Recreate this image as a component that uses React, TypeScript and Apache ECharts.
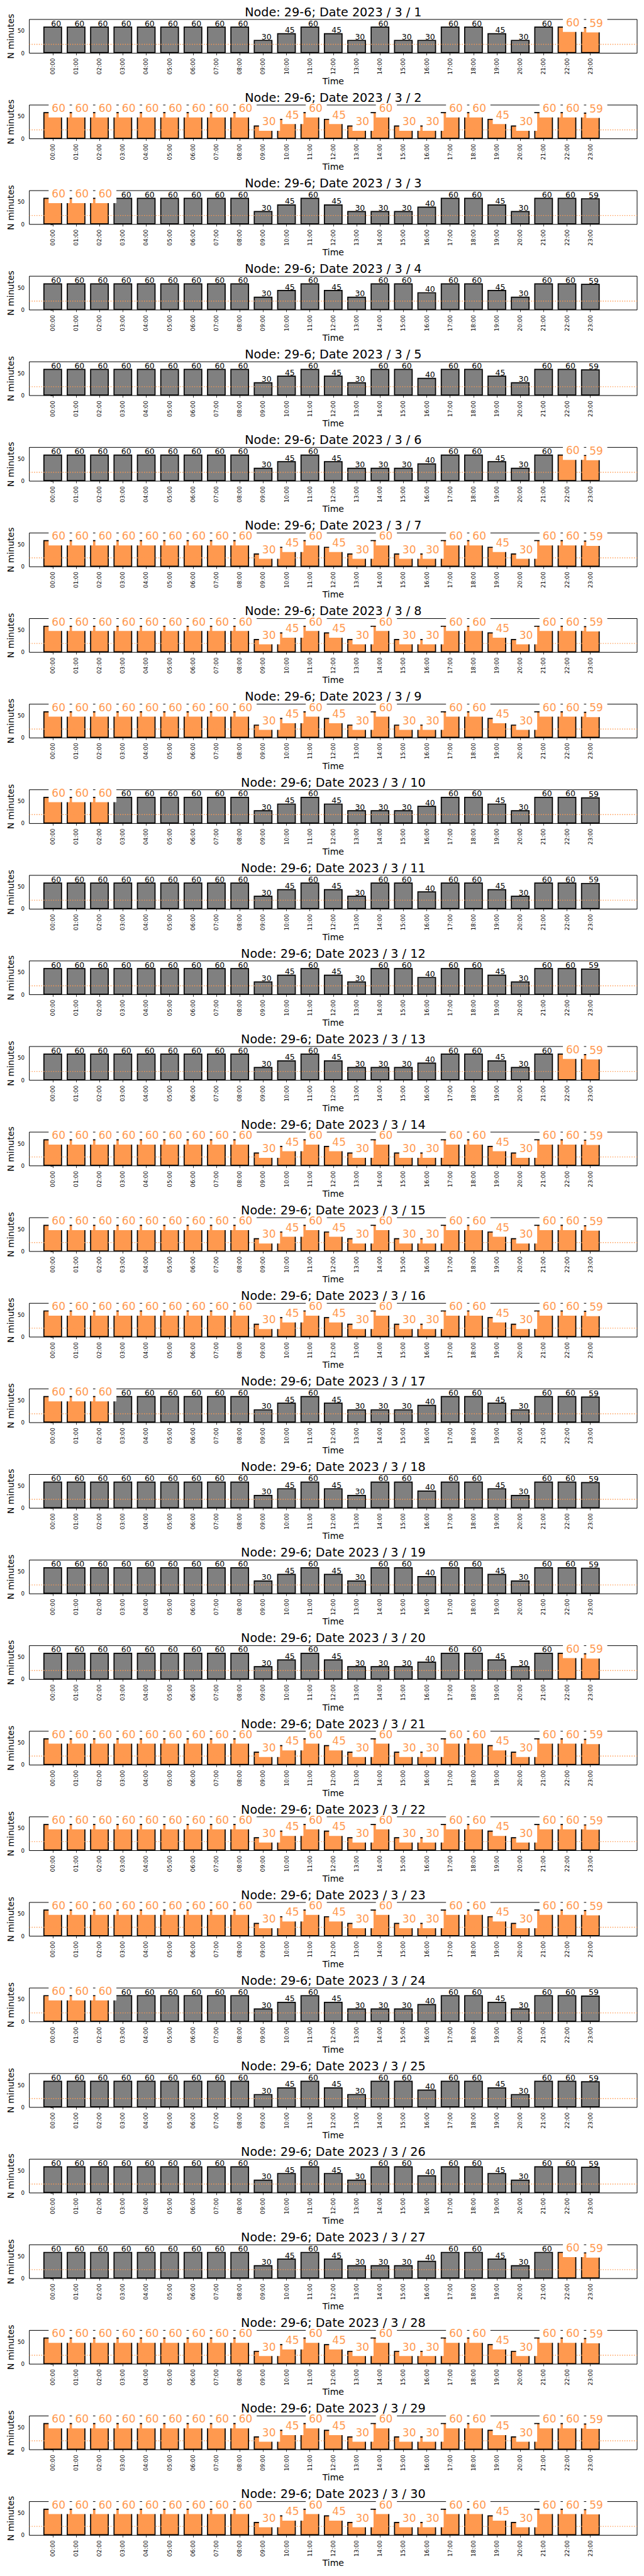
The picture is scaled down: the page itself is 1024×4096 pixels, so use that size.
import React, { useEffect, useRef } from "react";
import * as echarts from "echarts";

// ---------------- data ----------------
const nodeName = "29-6";
const year = 2023;
const month = 3;

const hourLabels = [
  "00:00", "01:00", "02:00", "03:00", "04:00", "05:00", "06:00", "07:00",
  "08:00", "09:00", "10:00", "11:00", "12:00", "13:00", "14:00", "15:00",
  "16:00", "17:00", "18:00", "19:00", "20:00", "21:00", "22:00", "23:00",
];

// minutes per hour, three daily profiles
const profileA = [60, 60, 60, 60, 60, 60, 60, 60, 60, 30, 45, 60, 45, 30, 60, 30, 30, 60, 60, 45, 30, 60, 60, 59];
const profileB = [60, 60, 60, 60, 60, 60, 60, 60, 60, 30, 45, 60, 45, 30, 30, 30, 40, 60, 60, 45, 30, 60, 60, 59];
const profileC = [60, 60, 60, 60, 60, 60, 60, 60, 60, 30, 45, 60, 45, 30, 60, 60, 40, 60, 60, 45, 30, 60, 60, 59];

// profile used by each day of the month (day 1 .. day 30)
const dayProfile = [
  "A", "A", "B", "C", "C", "B", "A",
  "A", "A", "B", "C", "C", "B", "A",
  "A", "A", "B", "C", "C", "B", "A",
  "A", "A", "B", "C", "C", "B", "A",
  "A", "A",
];

// which hours are highlighted (orange) on each day
const dayHighlight = [
  "late", "all", "early", "none", "none", "late", "all",
  "all", "all", "early", "none", "none", "late", "all",
  "all", "all", "early", "none", "none", "late", "all",
  "all", "all", "early", "none", "none", "late", "all",
  "all", "all",
];
const earlyHours = [0, 1, 2];
const lateHours = [22, 23];

const thresholdMinutes = 20;
const yTicks = [0, 50];
const yMax = 76.1;
const xMin = -1;
const xMax = 25;

// ---------------- style ----------------
const S = 0.682;
const FONT = "DejaVu Sans";
const GRAY = "#808080";
const ORANGE = "#FF994F";

const gridLeft = 68.4 * S;
const gridWidth = 1417 * S;
const gridHeight = 78.7 * S;
const gridTop0 = 45.3 * S;
const pitch = 199.55 * S;
const barWidth = (0.8 * gridWidth) / (xMax - xMin);

const profiles: Record<string, number[]> = { A: profileA, B: profileB, C: profileC };

function isHighlighted(mode: string, hour: number) {
  if (mode === "all") return true;
  if (mode === "early") return earlyHours.includes(hour);
  if (mode === "late") return lateHours.includes(hour);
  return false;
}

function buildOption() {
  const grid: any[] = [];
  const xAxis: any[] = [];
  const yAxis: any[] = [];
  const title: any[] = [];
  const series: any[] = [];
  const hourIdx = hourLabels.map((_, i) => i);

  dayProfile.forEach((prof, k) => {
    const values = profiles[prof];
    const mode = dayHighlight[k];
    const top = gridTop0 + pitch * k;

    grid.push({
      left: gridLeft,
      top,
      width: gridWidth,
      height: gridHeight,
      show: true,
      borderColor: "#000",
      borderWidth: 1,
      backgroundColor: "transparent",
      containLabel: false,
      outerBoundsMode: "none",
    });

    title.push({
      text: `Node: ${nodeName}; Date ${year} / ${month} / ${k + 1}`,
      left: gridLeft + gridWidth / 2,
      textAlign: "center",
      top: top - 5.9 - 0.797 * 19.2,
      padding: 0,
      textStyle: { fontFamily: FONT, fontSize: 19.2, fontWeight: "normal", color: "#000" },
    });

    xAxis.push({
      type: "value",
      gridIndex: k,
      min: xMin,
      max: xMax,
      interval: 1,
      name: "Time",
      nameLocation: "middle",
      nameGap: 37.2,
      nameMoveOverlap: false,
      nameTextStyle: { fontFamily: FONT, fontSize: 14, color: "#000" },
      axisLine: { show: false },
      splitLine: { show: false },
      axisTick: {
        show: true,
        length: 3.4,
        lineStyle: { color: "#000", width: 0.8 },
        customValues: hourIdx,
      },
      axisLabel: {
        rotate: 90,
        margin: 8,
        fontFamily: FONT,
        fontSize: 9,
        color: "#000",
        customValues: hourIdx,
        formatter: (v: number) => {
          const i = Math.round(v);
          return Math.abs(v - i) < 1e-6 && i >= 0 && i < hourLabels.length ? hourLabels[i] : "";
        },
      },
    });

    yAxis.push({
      type: "value",
      gridIndex: k,
      min: 0,
      max: yMax,
      interval: 50,
      name: "N minutes",
      nameLocation: "middle",
      nameRotate: 90,
      nameGap: 22.6,
      nameMoveOverlap: false,
      nameTextStyle: { fontFamily: FONT, fontSize: 14, color: "#000" },
      axisLine: { show: false },
      splitLine: { show: false },
      axisTick: {
        show: true,
        length: 3.4,
        lineStyle: { color: "#000", width: 0.8 },
        customValues: yTicks,
      },
      axisLabel: {
        margin: 7.5,
        fontFamily: FONT,
        fontSize: 8.7,
        color: "#000",
        customValues: yTicks,
        formatter: (v: number) => (yTicks.includes(v) ? String(v) : ""),
      },
    });

    series.push({
      type: "bar",
      xAxisIndex: k,
      yAxisIndex: k,
      barWidth,
      z: 2,
      silent: true,
      itemStyle: { borderColor: "#000", borderWidth: 1.7 },
      data: values.map((v, i) => ({
        value: [i, v],
        itemStyle: { color: isHighlighted(mode, i) ? ORANGE : GRAY },
      })),
    });

    series.push({
      type: "line",
      xAxisIndex: k,
      yAxisIndex: k,
      z: 3,
      silent: true,
      symbol: "none",
      showSymbol: false,
      lineStyle: { color: ORANGE, width: 1.4, type: [1.4, 2.4] },
      data: [
        [xMin, thresholdMinutes],
        [xMax, thresholdMinutes],
      ],
    });

    series.push({
      type: "custom",
      xAxisIndex: k,
      yAxisIndex: k,
      coordinateSystem: "cartesian2d",
      z: 4,
      silent: true,
      clip: false,
      encode: { x: 0, y: 1 },
      data: values.map((v, i) => [i, v, isHighlighted(mode, i) ? 1 : 0]),
      renderItem: (params: any, api: any) => {
        const hour = api.value(0);
        const v = api.value(1);
        const hi = api.value(2);
        const p = api.coord([hour, v]);
        if (hi) {
          return {
            type: "text",
            x: p[0] - 6.5,
            y: p[1] - 19.4,
            style: {
              text: String(v),
              fill: ORANGE,
              font: `17px "${FONT}"`,
              align: "left",
              verticalAlign: "top",
              backgroundColor: "#fff",
              padding: [4.5, 6.8, 6.35, 5],
            },
          };
        }
        return {
          type: "text",
          x: p[0] - 2.6,
          y: p[1] - 5.1,
          style: {
            text: String(v),
            fill: "#000",
            font: `12.5px "${FONT}"`,
            align: "left",
            verticalAlign: "middle",
          },
        };
      },
    });
  });

  return {
    animation: false,
    backgroundColor: "#fff",
    textStyle: { fontFamily: FONT },
    title,
    grid,
    xAxis,
    yAxis,
    series,
  };
}

export default function App() {
  const ref = useRef<HTMLDivElement>(null);
  useEffect(() => {
    document.body.style.margin = "0";
    const chart = echarts.init(ref.current!, null, { renderer: "svg" });
    chart.setOption(buildOption() as any);
    return () => chart.dispose();
  }, []);
  return <div ref={ref} style={{ width: 1024, height: 4096 }} />;
}
